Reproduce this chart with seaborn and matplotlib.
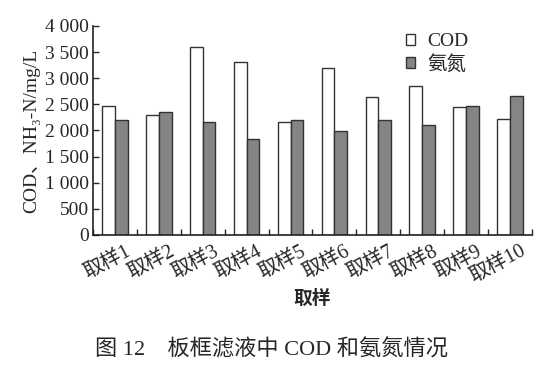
# plot.py - grouped bars of COD and ammonia nitrogen per sample
import pandas as pd
import numpy as np
import matplotlib
matplotlib.use("Agg")
import matplotlib.pyplot as plt
import matplotlib.transforms as mtransforms
import seaborn as sns

# data
samples = ["取样1", "取样2", "取样3", "取样4", "取样5",
           "取样6", "取样7", "取样8", "取样9", "取样10"]
cod = [2470, 2300, 3590, 3310, 2160, 3185, 2640, 2850, 2440, 2215]
nh3n = [2205, 2345, 2160, 1845, 2190, 1990, 2195, 2100, 2470, 2650]
series_names = ["COD", "氨氮"]
y_ticks = [0, 500, 1000, 1500, 2000, 2500, 3000, 3500, 4000]
y_ticklabels = ["0", "500", "1 000", "1 500", "2 000", "2 500", "3 000", "3 500", "4 000"]

sns.set_style("ticks")
plt.rcParams["font.family"] = ["Liberation Serif", "Noto Sans CJK SC", "DejaVu Sans"]

df = pd.DataFrame({
    "sample": samples * 2,
    "value": cod + nh3n,
    "series": [series_names[0]] * len(samples) + [series_names[1]] * len(samples),
})

fig = plt.figure(figsize=(5.54, 3.70), dpi=100)
ax = fig.add_axes([0.168, 0.365, 0.792, 0.565])

sns.barplot(data=df, x="sample", y="value", hue="series",
            palette={"COD": "white", "氨氮": "#858585"},
            width=0.58, gap=0, edgecolor="#333333", linewidth=1.0,
            ax=ax, legend=True)

ax.set_xlim(-0.5, len(samples) - 0.5)
ax.set_ylim(0, 4000)
ax.set_yticks(y_ticks)
ax.set_yticklabels(y_ticklabels, fontsize=14)
ax.tick_params(axis="y", direction="in", length=4, width=1, pad=3)

# category labels at centres, tick marks at group boundaries
ax.set_xticks(range(len(samples)))
ax.set_xticklabels(samples, rotation=28, ha="right", rotation_mode="anchor", fontsize=14.5)
ax.tick_params(axis="x", which="major", length=0, pad=5)
shift = mtransforms.ScaledTranslation(0.10, 0, fig.dpi_scale_trans)
for lab in ax.get_xticklabels():
    lab.set_transform(lab.get_transform() + shift)
ax.set_xticks(np.arange(-0.5, len(samples)), minor=True)
ax.tick_params(axis="x", which="minor", direction="in", length=4, width=1)

for side in ["top", "right"]:
    ax.spines[side].set_visible(False)
for side in ["left", "bottom"]:
    ax.spines[side].set_linewidth(1.2)
    ax.spines[side].set_color("#222222")

ax.set_ylabel("COD、NH₃-N/mg/L", fontsize=14, labelpad=3)
ax.set_xlabel("取样", fontsize=13.5, fontweight="bold", labelpad=2)

leg = ax.legend(loc="upper right", bbox_to_anchor=(0.895, 1.05), frameon=False,
                fontsize=14, handlelength=0.5, handleheight=0.5,
                handletextpad=0.6, labelspacing=0.25)

fig.text(0.49, 0.055, "图 12　板框滤液中 COD 和氨氮情况", ha="center", va="center", fontsize=16)

fig.savefig("out.png", dpi=100)
